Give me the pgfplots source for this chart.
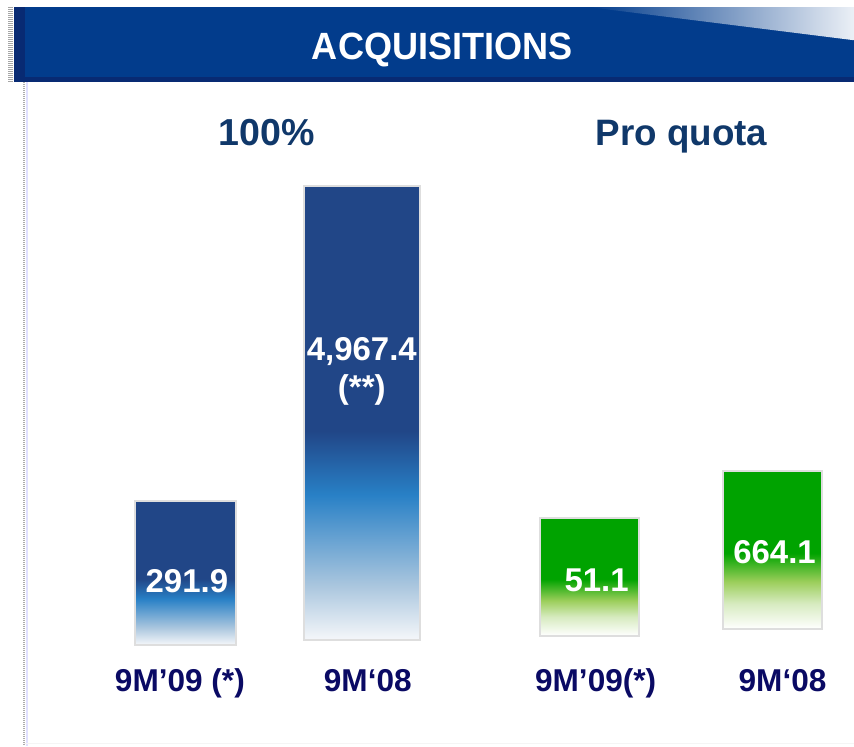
\documentclass[border=0pt]{standalone}
\usepackage{pgfplots}
\pgfplotsset{compat=1.18}
\usepackage{fontspec}
\setmainfont{Liberation Sans}
\newfontfamily\titlefont[FakeStretch=0.95]{Liberation Sans}

\definecolor{banner}{RGB}{2,60,140}
\definecolor{bannerdark}{RGB}{8,42,115}
\definecolor{headtxt}{RGB}{16,56,106}
\definecolor{cattxt}{RGB}{10,10,100}
\definecolor{bargray}{RGB}{222,222,222}
\definecolor{navybar}{RGB}{33,70,135}
\definecolor{midblue}{RGB}{40,128,198}
\definecolor{lightblue}{RGB}{170,198,222}
\definecolor{barwhite}{RGB}{245,247,250}
\definecolor{greenbar}{RGB}{0,163,0}
\definecolor{lightgreen}{RGB}{155,206,90}
\definecolor{palegreen}{RGB}{215,235,192}

\pgfdeclareverticalshading{blueshade}{100bp}{color(0bp)=(barwhite); color(25bp)=(barwhite);
  color(31bp)=(lightblue); color(41bp)=(midblue); color(48bp)=(navybar); color(100bp)=(navybar)}
\pgfdeclareverticalshading{greenshade}{100bp}{color(0bp)=(white); color(25bp)=(white);
  color(33bp)=(palegreen); color(40bp)=(lightgreen); color(49bp)=(greenbar); color(100bp)=(greenbar)}

\begin{document}
\begin{tikzpicture}
\begin{axis}[
    scale only axis,
    width=427pt, height=373pt,
    xmin=0, xmax=854, ymin=-108, ymax=638,
    clip=false,
    axis line style={draw=none},
    major tick length=0pt,
    ytick=\empty,
    xtick={180,368,596,783},
    xticklabels={9M’09 (*),9M‘08,9M’09(*),9M‘08},
    xticklabel style={anchor=base, yshift=27pt, text=cattxt,
        font=\bfseries\fontsize{15.8}{18}\selectfont},
]
% banner
\fill[banner] (axis cs:14,631) rectangle (axis cs:854,556);
\fill[bannerdark] (axis cs:14,631) rectangle (axis cs:25,556);
\fill[bannerdark] (axis cs:14,561) rectangle (axis cs:854,556);
\shade[left color=banner, right color=white!92!banner]
    (axis cs:590,631) -- (axis cs:854,631) -- (axis cs:854,598) -- cycle;
\draw[gray!70, line width=2.5pt, dash pattern=on 0.5pt off 0.5pt] (axis cs:10.5,631) -- (axis cs:10.5,556);
\node[anchor=base, text=white, font=\titlefont\bfseries\fontsize{19}{22}\selectfont]
    at (axis cs:442.5,579) {ACQUISITIONS};
% left margin lines
\draw[gray!65, line width=1pt, dash pattern=on 0.5pt off 0.5pt] (axis cs:24,556) -- (axis cs:24,-108);
\draw[blue!12!white, line width=0.8pt] (axis cs:27,556) -- (axis cs:27,-108);
\draw[gray!8, line width=0.5pt] (axis cs:24,-106) -- (axis cs:854,-106);
% group headers
\node[anchor=base, text=headtxt, font=\bfseries\fontsize{18.8}{22}\selectfont]
    at (axis cs:267,493) {100\%};
\node[anchor=base, text=headtxt, font=\bfseries\fontsize{18.4}{22}\selectfont]
    at (axis cs:682,493) {Pro quota};

% bars (heights as drawn in the slide, not to scale)
\addplot[ybar, bar shift=0pt, bar width=101, draw=bargray, line width=1pt,
    shade, shading=blueshade, yshift=-3.5pt] coordinates {(185.5,144)};
\addplot[ybar, bar shift=0pt, bar width=116, draw=bargray, line width=1pt,
    shade, shading=blueshade, yshift=-1pt] coordinates {(362.5,454)};
\addplot[ybar, bar shift=0pt, bar width=99, draw=bargray, line width=1pt,
    shade, shading=greenshade, yshift=1pt] coordinates {(589.5,118)};
\addplot[ybar, bar shift=0pt, bar width=99, draw=bargray, line width=1pt,
    shade, shading=greenshade, yshift=4.5pt] coordinates {(772.5,158)};

% values
\addplot[draw=none, nodes near coords, point meta=explicit symbolic,
    nodes near coords style={anchor=center, align=center, text=white,
        font=\bfseries\fontsize{16.5}{19}\selectfont}]
    coordinates {(187,57) [291.9] (362,267) [{4,967.4\\(**)}] (597,58) [51.1] (775,86) [664.1]};
\end{axis}
\end{tikzpicture}
\end{document}
